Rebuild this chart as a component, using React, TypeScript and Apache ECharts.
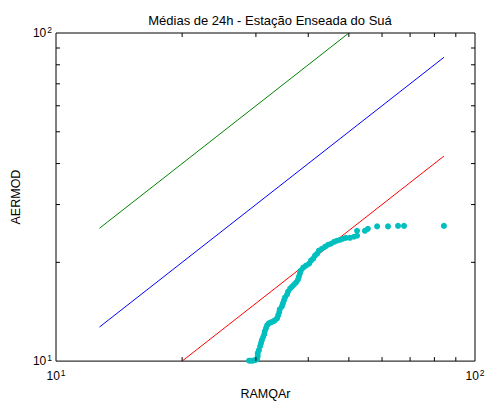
import React, { useEffect, useRef } from "react";
import * as echarts from "echarts";

const titleText = "Médias de 24h - Estação Enseada do Suá";
const xName = "RAMQAr";
const yName = "AERMOD";

// quantile pairs (RAMQAr, AERMOD)
const ramqar = [
  28.9, 29.2, 29.5, 29.85, 30.2, 30.3, 30.3, 30.5, 30.7, 30.85, 31.0, 31.2, 31.4, 31.5, 31.7, 31.9,
  32.2, 32.6, 33.0, 33.3, 33.7, 33.9, 34.1, 34.2, 34.6, 34.8, 35.0, 35.2, 35.6, 35.8, 36.2, 36.6,
  37.0, 37.4, 37.8, 38.0, 38.2, 38.4, 38.9, 39.5, 40.2, 40.6, 41.1, 41.5, 42.0, 42.4, 43.1, 43.9,
  44.6, 45.3, 46.1, 46.8, 47.6, 48.4, 49.2, 50.3, 51.4, 52.3, 52.3, 54.6, 55.5, 58.4, 62.0, 65.5,
  67.7, 84.3,
];
const aermod = [
  10.03, 10.03, 10.03, 10.07, 10.14, 10.35, 10.57, 10.8, 11.1, 11.34, 11.58, 11.82, 12.07, 12.33, 12.59, 12.86,
  13.04, 13.13, 13.22, 13.31, 13.5, 13.78, 14.08, 14.37, 14.68, 14.99, 15.31, 15.63, 15.96, 16.3, 16.64, 16.88,
  17.12, 17.36, 17.72, 18.1, 18.48, 18.87, 19.27, 19.54, 19.82, 20.24, 20.52, 20.96, 21.25, 21.7, 22.0, 22.32,
  22.63, 22.79, 23.1, 23.27, 23.43, 23.6, 23.76, 23.76, 23.93, 24.1, 24.95, 24.95, 25.3, 25.74, 25.74, 25.83,
  25.83, 25.83,
];

const lineStart = 12.7;
const lineEnd = 84.3;
const factorHigh = 2;
const factorLow = 0.5;

const axisMin = 10;
const axisMax = 100;
const minorTicks = [20, 30, 40, 50, 60, 70, 80, 90];

export default function App() {
  const ref = useRef<HTMLDivElement>(null);
  useEffect(() => {
    if (!ref.current) return;
    const chart = echarts.init(ref.current, undefined, { renderer: "svg" });
    const scatterData = ramqar.map((x, i) => [x, aermod[i]]);
    const oneToOne = [
      [lineStart, lineStart],
      [lineEnd, lineEnd],
    ];
    const upper = [
      [lineStart, lineStart * factorHigh],
      [axisMax / factorHigh, axisMax],
    ];
    const lower = [
      [axisMin / factorLow, axisMin],
      [lineEnd, lineEnd * factorLow],
    ];
    const font = "'Liberation Sans', Arial, sans-serif";
    const rich = {
      b: { fontSize: 12, lineHeight: 13, color: "#000", fontFamily: font },
      s: { fontSize: 8.5, color: "#000", fontFamily: font, padding: [0, 0, 7, 1] },
    };
    const fmt = (v: number) => {
      const e = Math.round(Math.log10(v));
      return "{b|10}{s|" + e + "}";
    };
    const tickLen = 4;
    chart.setOption({
      animation: false,
      backgroundColor: "#fff",
      title: {
        text: titleText,
        left: 265,
        textAlign: "center",
        top: 9,
        textStyle: { fontSize: 13, fontWeight: "normal", color: "#000", fontFamily: font },
      },
      grid: {
        left: 56,
        top: 33,
        width: 419,
        height: 330,
        show: true,
        borderColor: "#000",
        borderWidth: 1,
        backgroundColor: "#fff",
      },
      xAxis: {
        type: "log",
        logBase: 10,
        min: axisMin,
        max: axisMax,
        name: xName,
        nameLocation: "middle",
        nameGap: 25,
        nameTextStyle: { fontSize: 12.5, color: "#000", fontFamily: font },
        axisLine: { show: false },
        axisTick: { show: false },
        splitLine: { show: false },
        axisLabel: { formatter: fmt, rich, margin: 7, showMinLabel: true, showMaxLabel: true },
      },
      yAxis: {
        type: "log",
        logBase: 10,
        min: axisMin,
        max: axisMax,
        name: yName,
        nameLocation: "middle",
        nameGap: 28,
        nameTextStyle: { fontSize: 12.5, color: "#000", fontFamily: font },
        axisLine: { show: false },
        axisTick: { show: false },
        splitLine: { show: false },
        axisLabel: { formatter: fmt, rich, margin: 4, showMinLabel: true, showMaxLabel: true },
      },
      series: [
        {
          type: "line",
          data: upper,
          showSymbol: false,
          symbol: "none",
          lineStyle: { color: "#008000", width: 1 },
          z: 2,
        },
        {
          type: "line",
          data: oneToOne,
          showSymbol: false,
          symbol: "none",
          lineStyle: { color: "#0000ff", width: 1 },
          z: 2,
        },
        {
          type: "line",
          data: lower,
          showSymbol: false,
          symbol: "none",
          lineStyle: { color: "#ff0000", width: 1 },
          z: 2,
        },
        {
          type: "scatter",
          data: scatterData,
          symbol: "circle",
          symbolSize: 6,
          itemStyle: { color: "#00bfbf", opacity: 1 },
          z: 3,
        },
        {
          type: "custom",
          data: minorTicks.map((v) => [v, axisMin]),
          silent: true,
          z: 4,
          renderItem: (params: any, api: any) => {
            const v = api.value(0);
            const b = api.coord([v, axisMin]);
            const t = api.coord([v, axisMax]);
            const st = { stroke: "#000", lineWidth: 1 };
            return {
              type: "group",
              children: [
                { type: "line", shape: { x1: b[0], y1: b[1], x2: b[0], y2: b[1] - tickLen }, style: st },
                { type: "line", shape: { x1: t[0], y1: t[1], x2: t[0], y2: t[1] + tickLen }, style: st },
              ],
            };
          },
        },
        {
          type: "custom",
          data: minorTicks.map((v) => [axisMin, v]),
          silent: true,
          z: 4,
          renderItem: (params: any, api: any) => {
            const v = api.value(1);
            const l = api.coord([axisMin, v]);
            const r = api.coord([axisMax, v]);
            const st = { stroke: "#000", lineWidth: 1 };
            return {
              type: "group",
              children: [
                { type: "line", shape: { x1: l[0], y1: l[1], x2: l[0] + tickLen, y2: l[1] }, style: st },
                { type: "line", shape: { x1: r[0], y1: r[1], x2: r[0] - tickLen, y2: r[1] }, style: st },
              ],
            };
          },
        },
      ],
    });
    return () => chart.dispose();
  }, []);
  return (
    <div
      ref={ref}
      style={{ position: "fixed", left: 0, top: 0, width: 492, height: 405, background: "#fff" }}
    />
  );
}
